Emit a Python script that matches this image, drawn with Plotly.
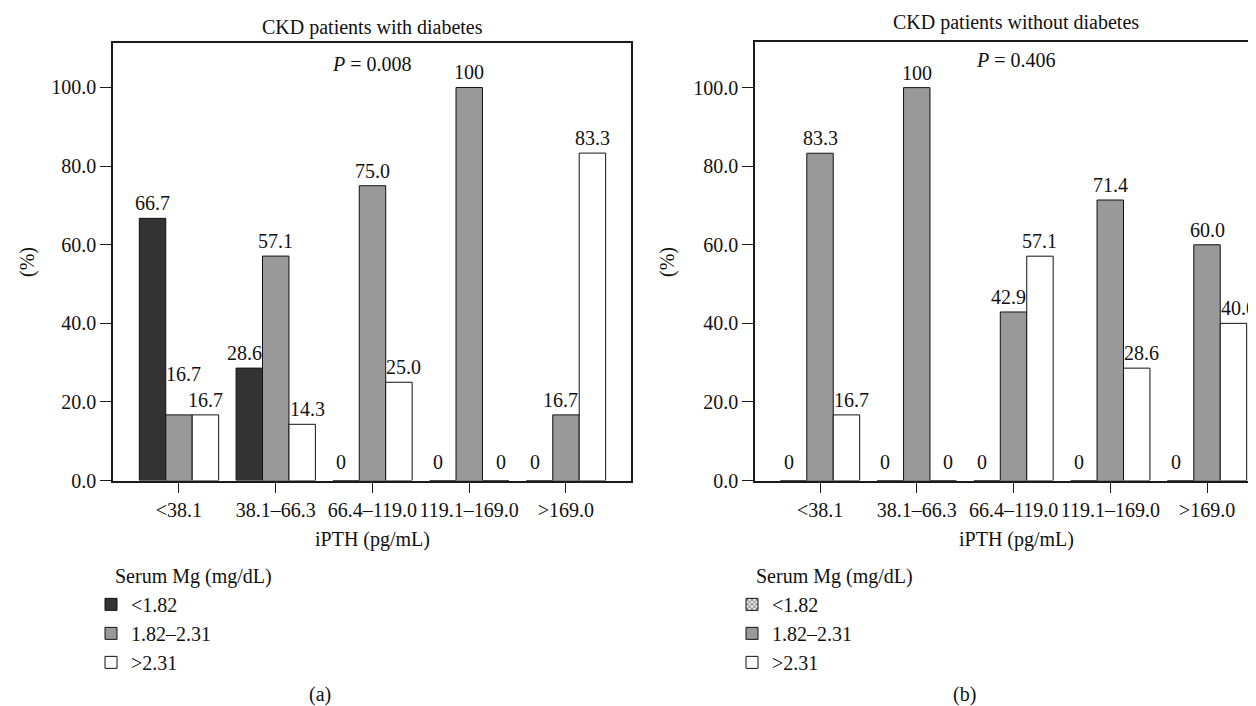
import plotly.graph_objects as go

# ---------------- data ----------------
categories = ["<38.1", "38.1\u201366.3", "66.4\u2013119.0", "119.1\u2013169.0", ">169.0"]
series_names = ["<1.82", "1.82\u20132.31", ">2.31"]

diab_low = [66.7, 28.6, 0, 0, 0]
diab_mid = [16.7, 57.1, 75.0, 100, 16.7]
diab_high = [16.7, 14.3, 25.0, 0, 83.3]

nodiab_low = [0, 0, 0, 0, 0]
nodiab_mid = [83.3, 100, 42.9, 71.4, 60.0]
nodiab_high = [16.7, 0, 57.1, 28.6, 40.0]

y_ticks = [0, 20, 40, 60, 80, 100]

# ---------------- styling ----------------
W, H = 1256, 706
FONT = "Liberation Serif"
FS = 20
colors = ["#333333", "#999999", "#ffffff"]
BARGAP = 0.18


def fmt(v):
    if v == 0:
        return "0"
    if v == 100:
        return "100"
    return f"{v:.1f}"


def px(x):
    return x / W


def py(y):
    return 1 - y / H


panels = [
    dict(sets=[diab_low, diab_mid, diab_high], xa="x", ya="y", leg="legend",
         dom=[105, 623], xrange=[-0.682, 4.672], ydom=[480, 36], yrange=[0, 111.2]),
    dict(sets=[nodiab_low, nodiab_mid, nodiab_high], xa="x2", ya="y2", leg="legend2",
         dom=[747, W], xrange=[-0.672, 4.589], ydom=[480, 35], yrange=[0, 111.5]),
]

fig = go.Figure()
label_annots = []

for p_i, p in enumerate(panels):
    for i, (name, vals) in enumerate(zip(series_names, p["sets"])):
        marker = dict(color=colors[i], line=dict(color="#111111", width=1))
        if p_i == 1 and i == 0:
            marker = dict(color="#ffffff", line=dict(color="#111111", width=1),
                          pattern=dict(shape="x", fgcolor="#000000", bgcolor="#ffffff",
                                       size=4, solidity=0.5))
        fig.add_trace(go.Bar(
            x=categories, y=vals, name=name, marker=marker,
            xaxis=p["xa"], yaxis=p["ya"], legend=p["leg"],
            hoverinfo="skip", cliponaxis=False,
        ))

    # value labels, placed with the axes' own scales
    cat_px = (p["dom"][1] - p["dom"][0]) / (p["xrange"][1] - p["xrange"][0])
    bar_px = cat_px * (1 - BARGAP) / 3
    sets = p["sets"]
    for i in range(3):
        for j, cat in enumerate(categories):
            v = sets[i][j]
            hl = sets[i - 1][j] if i > 0 else None
            hr = sets[i + 1][j] if i < 2 else None
            dx = (i - 1) * bar_px
            if hl is not None and hl > v:
                dx += 5
            if hr is not None and hr > v:
                dx -= 5
            dy = 2 + (4 if v == 0 else 0)
            if hr is not None and v > 0 and abs(hr - v) < 5:
                dy += 26
            label_annots.append(dict(
                text=fmt(v), x=cat, y=v, xref=p["xa"], yref=p["ya"],
                xshift=dx, yshift=dy, showarrow=False,
                xanchor="center", yanchor="bottom",
                font=dict(family=FONT, size=FS, color="#111111"),
            ))

axis_common = dict(
    showgrid=False, zeroline=False, showline=True, linecolor="#1a1a1a",
    linewidth=1.5, ticks="outside", ticklen=11, tickwidth=1.3, tickcolor="#1a1a1a",
    tickfont=dict(family=FONT, size=FS, color="#111111"),
)

legend_common = dict(xanchor="left", yanchor="top", font=dict(family=FONT, size=FS),
                     tracegroupgap=0, bgcolor="rgba(0,0,0,0)", borderwidth=0)

fig.update_layout(
    width=W, height=H, autosize=False,
    margin=dict(l=0, r=0, t=0, b=0),
    paper_bgcolor="white", plot_bgcolor="white",
    barmode="group", bargap=BARGAP, bargroupgap=0,
    font=dict(family=FONT, size=FS, color="#111111"),
    xaxis=dict(axis_common, domain=[px(105), px(623)], range=panels[0]["xrange"],
               mirror=True, anchor="y", type="category"),
    yaxis=dict(axis_common, domain=[py(480), py(36)], range=panels[0]["yrange"],
               tickvals=y_ticks, tickformat=".1f", mirror=True, anchor="x"),
    xaxis2=dict(axis_common, domain=[px(747), 1.0], range=panels[1]["xrange"],
                mirror=True, anchor="y2", type="category"),
    yaxis2=dict(axis_common, domain=[py(480), py(35)], range=panels[1]["yrange"],
                tickvals=y_ticks, tickformat=".1f", mirror=False, anchor="x2"),
    legend=dict(legend_common, x=px(83), y=py(586)),
    legend2=dict(legend_common, x=px(724), y=py(586)),
    annotations=label_annots,
)

annots = [
    ("CKD patients with diabetes", 364, 20, 0, "center"),
    ("CKD patients without diabetes", 1008, 15, 0, "center"),
    ("<i>P</i> = 0.008", 364, 57, 0, "center"),
    ("<i>P</i> = 0.406", 1008, 53, 0, "center"),
    ("(%)", 20, 258, -90, "center"),
    ("(%)", 660, 258, -90, "center"),
    ("iPTH (pg/mL)", 364, 540, 0, "center"),
    ("iPTH (pg/mL)", 1008, 540, 0, "center"),
    ("Serum Mg (mg/dL)", 105, 578, 0, "left"),
    ("Serum Mg (mg/dL)", 746, 578, 0, "left"),
    ("(a)", 312, 697, 0, "center"),
    ("(b)", 956, 697, 0, "center"),
]
for text, x, y, ang, xa in annots:
    fig.add_annotation(text=text, x=px(x), y=py(y), xref="paper", yref="paper",
                       showarrow=False, textangle=ang, xanchor=xa, yanchor="middle",
                       font=dict(family=FONT, size=FS, color="#111111"))

fig.write_html("out.html")
